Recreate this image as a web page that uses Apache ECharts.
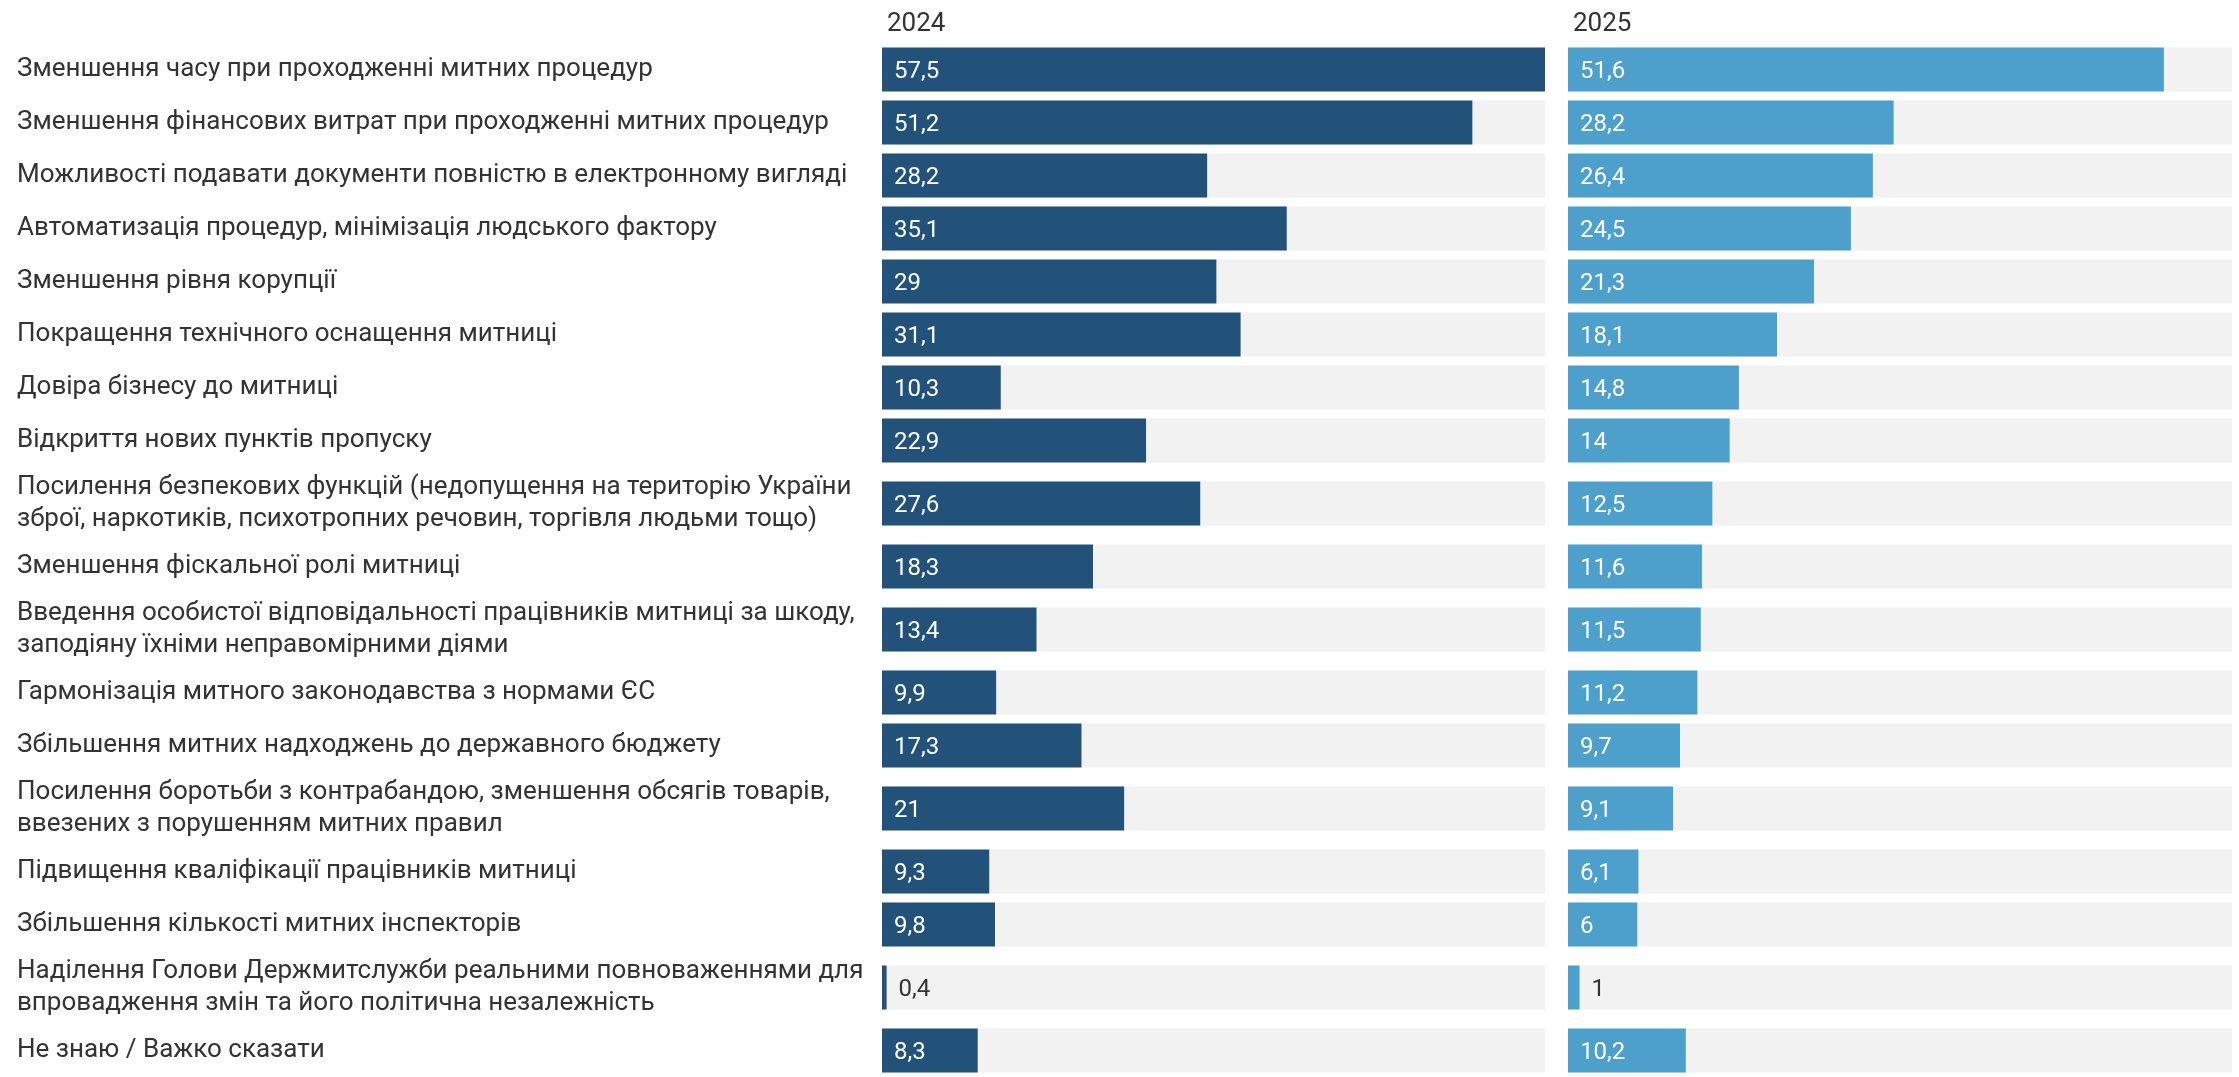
<!DOCTYPE html>
<html>
<head>
<meta charset="utf-8">
<script src="https://cdn.jsdelivr.net/npm/echarts@6/dist/echarts.min.js"></script>
<style>
  html, body { margin: 0; padding: 0; background: #fff; }
  #chart { width: 2239px; height: 1077px; }
</style>
</head>
<body>
<div id="chart"></div>
<script>
// Пріоритети реформи митниці — два стовпчикові панелі (2024 / 2025), спільна шкала.

const categories = [
  'Зменшення часу при проходженні митних процедур',
  'Зменшення фінансових витрат при проходженні митних процедур',
  'Можливості подавати документи повністю в електронному вигляді',
  'Автоматизація процедур, мінімізація людського фактору',
  'Зменшення рівня корупції',
  'Покращення технічного оснащення митниці',
  'Довіра бізнесу до митниці',
  'Відкриття нових пунктів пропуску',
  'Посилення безпекових функцій (недопущення на територію України\nзброї, наркотиків, психотропних речовин, торгівля людьми тощо)',
  'Зменшення фіскальної ролі митниці',
  'Введення особистої відповідальності працівників митниці за шкоду,\nзаподіяну їхніми неправомірними діями',
  'Гармонізація митного законодавства з нормами ЄС',
  'Збільшення митних надходжень до державного бюджету',
  'Посилення боротьби з контрабандою, зменшення обсягів товарів,\nввезених з порушенням митних правил',
  'Підвищення кваліфікації працівників митниці',
  'Збільшення кількості митних інспекторів',
  'Наділення Голови Держмитслужби реальними повноваженнями для\nвпровадження змін та його політична незалежність',
  'Не знаю / Важко сказати',
];

const years = ['2024', '2025'];
const values2024 = [57.5, 51.2, 28.2, 35.1, 29, 31.1, 10.3, 22.9, 27.6, 18.3, 13.4, 9.9, 17.3, 21, 9.3, 9.8, 0.4, 8.3];
const values2025 = [51.6, 28.2, 26.4, 24.5, 21.3, 18.1, 14.8, 14, 12.5, 11.6, 11.5, 11.2, 9.7, 9.1, 6.1, 6, 1, 10.2];

// розмітка рядків: однорядковий підпис — 53 px, дворядковий — 73 px
const ROW_1 = 53, ROW_2 = 73, BAR = 44, PAD = 12;
const FONT = 'Roboto, sans-serif';
const FS = 24;        // значення на стовпчиках
const FS_LABEL = 26;  // підписи категорій і заголовки
const NUDGE = 2;      // Roboto сидить трохи високо — зсув тексту вниз

const rowHeights = categories.map(c => c.includes('\n') ? ROW_2 : ROW_1);
const rowCenters = [];
let acc = 0;
rowHeights.forEach(h => { rowCenters.push(acc + h / 2); acc += h; });
const totalH = acc;
const xMax = Math.max(...values2024, ...values2025);

const fmt = v => String(v).replace('.', ',');

const measureCtx = document.createElement('canvas').getContext('2d');
measureCtx.font = FS + 'px ' + FONT;
const textW = s => measureCtx.measureText(s).width;

function makeRender(color) {
  return function (params, api) {
    const v = api.value(0), c = api.value(1);
    const start = api.coord([0, c]);
    const end = api.coord([v, c]);
    const full = api.coord([xMax, c]);
    const h = api.size([0, BAR])[1];
    const top = start[1] - h / 2;
    const text = fmt(v);
    const w = end[0] - start[0];
    const inside = w > textW(text) + 2 * PAD;
    return {
      type: 'group',
      children: [
        { type: 'rect', shape: { x: start[0], y: top, width: full[0] - start[0], height: h }, style: { fill: '#f2f2f2' } },
        { type: 'rect', shape: { x: start[0], y: top, width: w, height: h }, style: { fill: color } },
        {
          type: 'text',
          x: inside ? start[0] + PAD : end[0] + PAD,
          y: start[1] + NUDGE,
          style: { text, fill: inside ? '#fff' : '#333', fontSize: FS, fontFamily: FONT, verticalAlign: 'middle', align: 'left' },
        },
      ],
    };
  };
}

const GRID_TOP = 43;
const panels = [
  { left: 882, width: 663, color: '#22527a', values: values2024 },
  { left: 1568, width: 664, color: '#4ca0cb', values: values2025 },
];

const chart = echarts.init(document.getElementById('chart'));

chart.setOption({
  animation: false,
  backgroundColor: '#fff',
  title: panels.map((p, i) => ({
    text: years[i],
    left: p.left,
    top: 6,
    textStyle: { fontSize: FS_LABEL, fontWeight: 'normal', color: '#333', fontFamily: FONT },
  })),
  grid: panels.map(p => ({ left: p.left, width: p.width, top: GRID_TOP, height: totalH })),
  xAxis: panels.map((p, i) => ({
    type: 'value', gridIndex: i, min: 0, max: xMax, show: false,
  })),
  yAxis: panels.map((p, i) => ({
    type: 'value', gridIndex: i, min: 0, max: totalH, inverse: true,
    splitLine: { show: false },
    axisLine: { show: false },
    axisTick: { show: false },
    axisLabel: i === 0 ? {
      show: true,
      customValues: rowCenters,
      formatter: val => {
        const idx = rowCenters.findIndex(c => Math.abs(c - val) < 0.01);
        return idx >= 0 ? categories[idx] : '';
      },
      align: 'left',
      margin: p.left - 17,
      padding: [NUDGE * 2, 0, 0, 0],
      fontSize: FS_LABEL,
      lineHeight: 32,
      fontFamily: FONT,
      color: '#333',
    } : { show: false },
  })),
  series: panels.map((p, i) => ({
    type: 'custom',
    name: years[i],
    xAxisIndex: i,
    yAxisIndex: i,
    encode: { x: 0, y: 1 },
    renderItem: makeRender(p.color),
    data: p.values.map((v, k) => [v, rowCenters[k]]),
  })),
});
</script>
</body>
</html>
